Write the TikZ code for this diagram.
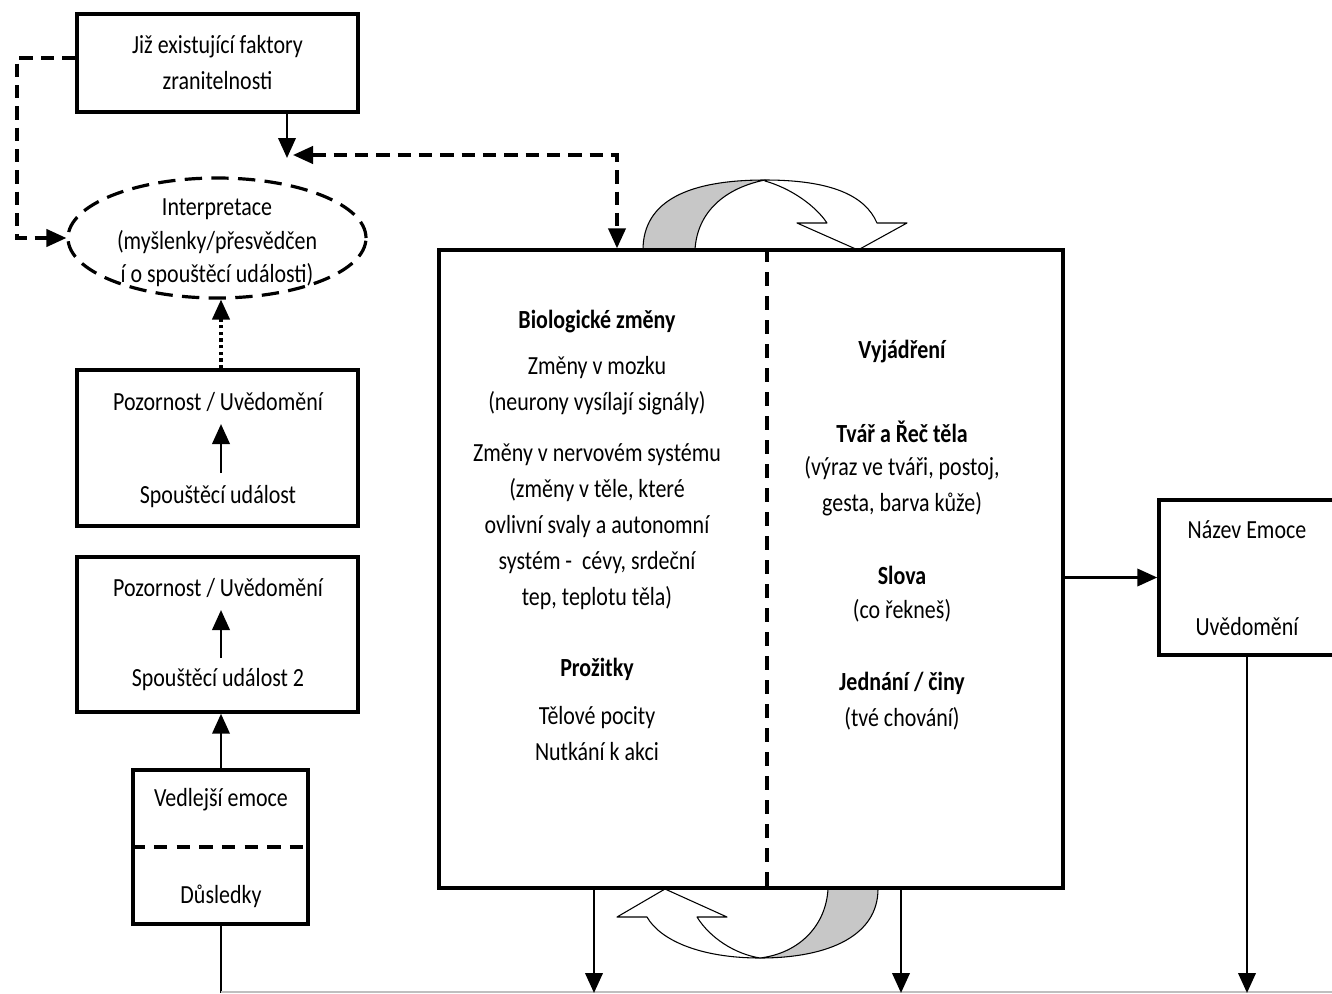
\documentclass[tikz,border=0pt]{standalone}
\usepackage{fontspec}
\setmainfont{Carlito}[FakeStretch=0.84]
\usetikzlibrary{arrows.meta,shapes.geometric}
\begin{document}
\begin{tikzpicture}[x=0.75pt,y=-0.75pt,
  ftip/.tip={Triangle[length=15pt,width=13pt]},
  box/.style={draw,line width=2.6pt,inner sep=0pt},
  txt/.style={inner sep=0pt,align=center,font=\fontsize{19.6}{27}\selectfont},
  btxt/.style={inner sep=0pt,align=center,font=\fontsize{19.6}{27}\selectfont\bfseries},
  arr/.style={line width=2.1pt,-ftip},
  dsh/.style={line width=2.4pt,dash pattern=on 10pt off 6pt},
  ribbon/.style={draw,line width=0.8pt,line join=round},
  greyfill/.style={fill=black!22}]
\useasboundingbox (0,0) rectangle (1332,993);

% ribbons (curved arrows)
\filldraw[ribbon,greyfill] (643,250) .. controls (643,200) and (690,180) .. (765,180)
  .. controls (725,188) and (697,212) .. (695,250) -- cycle;
\filldraw[ribbon,fill=white] (765,180) .. controls (830,180) and (865,195) .. (877,223)
  -- (907,223) -- (858,250) -- (797,223) -- (827,223)
  .. controls (815,205) and (790,188) .. (765,181) -- cycle;
\filldraw[ribbon,greyfill] (878,889) .. controls (878,935) and (830,958) .. (760,958)
  .. controls (800,953) and (826,925) .. (828,889) -- cycle;
\filldraw[ribbon,fill=white] (760,958) .. controls (700,958) and (660,940) .. (647,917)
  -- (617,917) -- (665,889) -- (727,917) -- (697,917)
  .. controls (710,938) and (735,954) .. (760,958) -- cycle;

% helper coordinates
\coordinate (c221) at (221,0);
\coordinate (c594) at (594,0);
\coordinate (c617) at (617,0);
\coordinate (c767) at (767,0);
\coordinate (c901) at (901,0);
\coordinate (c1247) at (1247,0);
\coordinate (e221) at (221,993);
\coordinate (e594) at (594,993);
\coordinate (e901) at (901,993);
\coordinate (e1247) at (1247,993);
\coordinate (gl1) at (221,992);
\coordinate (gl2) at (1332,992);
\coordinate (ip1) at (287,158);
\coordinate (ip2) at (293,155);
\coordinate (lc) at (17,58);
\coordinate (a2s) at (221,473);
\coordinate (a2e) at (221,424);
\coordinate (a3s) at (221,658);
\coordinate (a3e) at (221,610);

% boxes
\node[box,minimum width=210.75pt,minimum height=73.5pt] (b1) at (217.5,63) {};
\node[txt] (t1) at (217.5,63) {Již existující faktory\\zranitelnosti};

\node[draw,ellipse,line width=2.4pt,dash pattern=on 13pt off 7pt,
  minimum width=223.5pt,minimum height=90pt,inner sep=0pt] (ell) at (217,238) {};
\node[inner sep=0pt,align=center,font=\fontsize{19.6}{25}\selectfont] (tell) at (217,243)
  {Interpretace\\(myšlenky/přesvědčen\\í o spouštěcí události)};

\node[box,minimum width=210.75pt,minimum height=117pt] (b2) at (217.5,448) {};
\node[txt] (t2a) at (218,402) {Pozornost / Uvědomění};
\node[txt] (t2b) at (218,497) {Spouštěcí událost};

\node[box,minimum width=210.75pt,minimum height=116.25pt] (b3) at (217.5,634.5) {};
\node[txt] (t3a) at (218,588) {Pozornost / Uvědomění};
\node[txt] (t3b) at (218,680) {Spouštěcí událost 2};

\node[box,minimum width=131.25pt,minimum height=115.5pt] (b4) at (220.5,847) {};
\node[txt] (t4a) at (221,800) {Vedlejší emoce};
\node[txt] (t4b) at (221,896) {Důsledky};
\draw[line width=2.6pt,dash pattern=on 10pt off 7pt] (b4.west) -- ([xshift=-5pt]b4.east);

\node[box,minimum width=468pt,minimum height=478.5pt] (bb) at (751,569) {};
\draw[line width=2.4pt,dash pattern=on 10pt off 8pt] (bb.north -| c767) -- (bb.south -| c767);

\node[btxt] (bio) at (597,322) {Biologické změny};
\node[txt] (moz) at (597,385.5) {Změny v mozku\\(neurony vysílají signály)};
\node[txt] (ner) at (597,527) {Změny v nervovém systému\\(změny v těle, které\\ovlivní svaly a autonomní\\systém -\ \ cévy, srdeční\\tep, teplotu těla)};
\node[btxt] (pro) at (597,669) {Prožitky};
\node[txt] (poc) at (597,734) {Tělové pocity\\Nutkání k akci};

\node[btxt] (vyj) at (902,352) {Vyjádření};
\node[btxt] (tvar) at (902,432) {Tvář a Řeč těla};
\node[txt] (vyraz) at (902,486) {(výraz ve tváři, postoj,\\gesta, barva kůže)};
\node[btxt] (slova) at (902,575) {Slova};
\node[txt] (rek) at (902,611) {(co řekneš)};
\node[btxt] (jed) at (902,683) {Jednání / činy};
\node[txt] (chov) at (902,719) {(tvé chování)};

\begin{scope}
\clip (0,0) rectangle (1332,993);
\node[box,minimum width=139.5pt,minimum height=116.25pt] (naz) at (1252,577.5) {};
\end{scope}
\node[txt] (tn1) at (1247,530) {Název Emoce};
\node[txt] (tn2) at (1247,627) {Uvědomění};

% connectors
\draw[arr] (b1.south -| ip1) -- (ip1);
\draw[dsh,ftip-ftip] (ip2) -| (bb.north -| c617);
\draw[dsh,-ftip] ([yshift=3.75pt]b1.west) -- (lc) |- (ell.west);
\draw[line width=2.4pt,dash pattern=on 2.5pt off 2.5pt,-ftip] (b2.north -| c221) -- (ell.south -| c221);
\draw[arr] (a2s) -- (a2e);
\draw[arr] (a3s) -- (a3e);
\draw[arr] (b4.north -| c221) -- (b3.south -| c221);
\draw[line width=2.1pt] (b4.south -| c221) -- (e221);
\draw[black!25,line width=0.8pt] (gl1) -- (gl2);
\draw[arr] (bb.south -| c594) -- (e594);
\draw[arr] (bb.south -| c901) -- (e901);
\draw[arr] (bb.east |- naz.west) -- (naz.west);
\draw[arr] (naz.south -| c1247) -- (e1247);
\end{tikzpicture}
\end{document}
